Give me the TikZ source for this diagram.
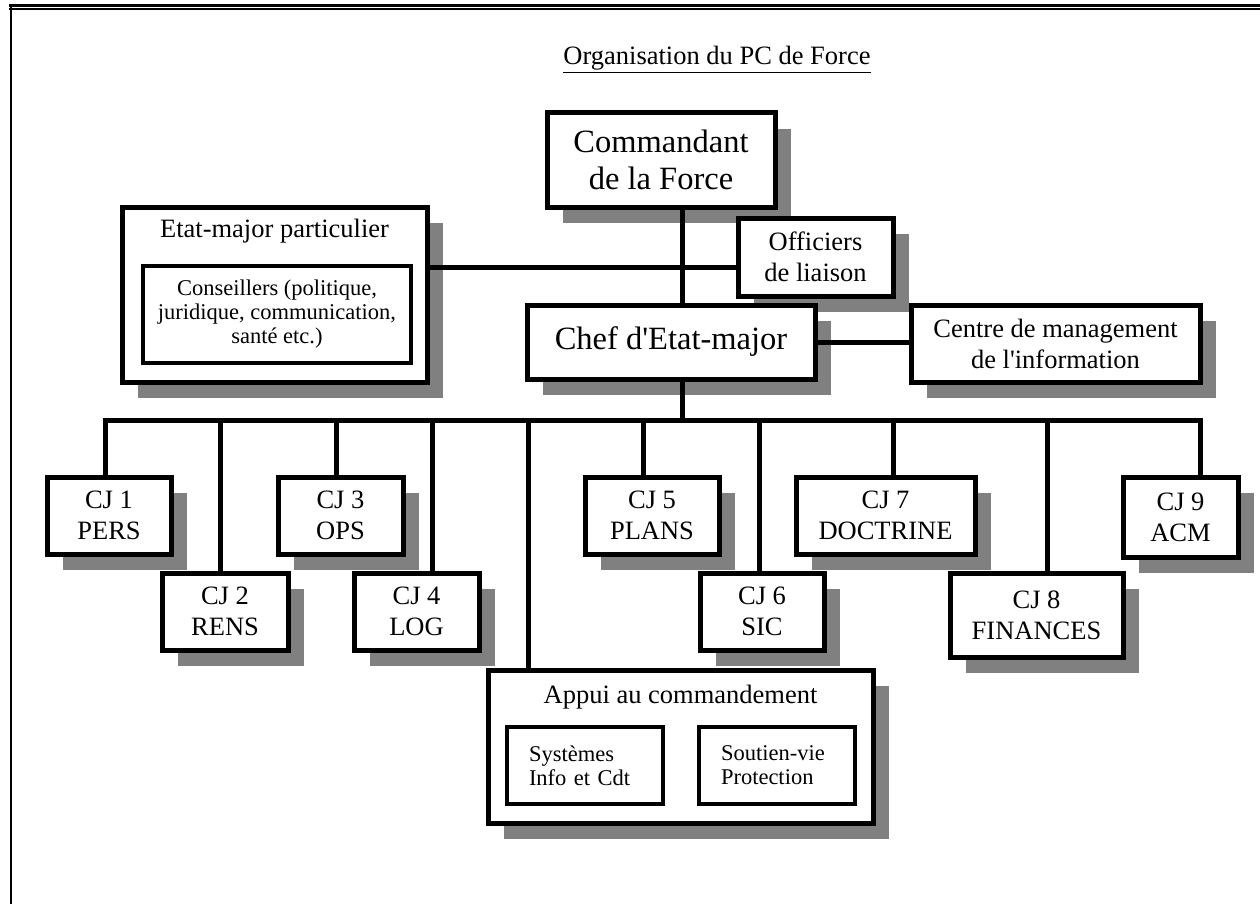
\documentclass[tikz,border=0pt]{standalone}
\usepackage{fontspec}
\setmainfont{Liberation Serif}
\usetikzlibrary{shadows, positioning}
\definecolor{shadowgray}{HTML}{808080}

\begin{document}
\begin{tikzpicture}[x=1pt, y=-1pt,
    box/.style={rectangle, draw, line width=5pt, fill=white, inner sep=0pt, align=center,
        drop shadow={shadow xshift=16pt, shadow yshift=-16pt, fill=shadowgray, opacity=1}},
    innerbox/.style={rectangle, draw, line width=4.5pt, fill=white, inner sep=0pt},
    cj/.style={box, mid, minimum height=77pt},
    link/.style={line width=5pt},
    big/.style={font=\fontsize{32.5}{37}\selectfont},
    mid/.style={font=\fontsize{26.5}{31}\selectfont},
    small/.style={font=\fontsize{22.5}{24}\selectfont}
]
\useasboundingbox (0,0) rectangle (1260,904);

% page frame
\draw[line width=2.4pt] (9,5.5) -- (1260,5.5);
\draw[line width=2pt] (9,9.3) -- (1260,9.3);
\draw[line width=2.5pt] (11.2,4.3) -- (11.2,904);

\node[mid, anchor=base] (title) at (717,65) {\underline{Organisation du PC de Force}};

% top of the tree
\node[box, big, minimum width=228pt, minimum height=94pt] (cmd) at (661,160) {Commandant\\de la Force};
\node[box, minimum width=305pt, minimum height=175pt] (emp) at (274.5,294.5) {};
\node[mid] (emptitle) at (274.5,231) {Etat-major particulier};
\node[innerbox, small, align=center, minimum width=268pt, minimum height=97pt] (cons) at (277,314.5) {Conseillers (politique,\\juridique, communication,\\santé etc.)};
\node[box, mid, minimum width=155pt, minimum height=78pt] (off) at (815.5,257) {Officiers\\de liaison};
\node[box, big, minimum width=288pt, minimum height=74pt] (chef) at (671,342) {Chef d\textquotesingle Etat-major};
\node[box, mid, minimum width=289pt, minimum height=77pt] (centre) at (1055.5,343.5) {Centre de management\\de l\textquotesingle information};

% cellules
\node[cj, minimum width=124pt] (cj1) at (109,515.5) {CJ 1\\PERS};
\node[cj, minimum width=126pt] (cj2) at (225,611.5) {CJ 2\\RENS};
\node[cj, minimum width=125pt] (cj3) at (340.5,515.5) {CJ 3\\OPS};
\node[cj, minimum width=125pt] (cj4) at (416.5,611.5) {CJ 4\\LOG};
\node[cj, minimum width=134pt] (cj5) at (652,515.5) {CJ 5\\PLANS};
\node[cj, minimum width=124pt] (cj6) at (762,611.5) {CJ 6\\SIC};
\node[cj, minimum width=179pt] (cj7) at (885.5,515.5) {CJ 7\\DOCTRINE};
\node[cj, minimum width=173pt, minimum height=84pt] (cj8) at (1036.5,615) {CJ 8\\FINANCES};
\node[cj, minimum width=115pt, minimum height=80pt] (cj9) at (1180.5,517) {CJ 9\\ACM};

% appui au commandement
\node[box, minimum width=385pt, minimum height=153pt] (appui) at (680.5,746.5) {};
\node[mid] (appuititle) at (680.5,697) {Appui au commandement};
\node[innerbox, small, align=left, text width=112pt, minimum width=156pt, minimum height=77pt] (sys) at (585,765.5) {Systèmes\\Info et Cdt};
\node[innerbox, small, align=left, text width=112pt, minimum width=156pt, minimum height=77pt] (sout) at (777,765.5) {Soutien-vie\\Protection};

% liaisons
\coordinate (spine) at (682,420);
\draw[link] (spine |- cmd.south) -- (spine |- chef.north);
\draw[link] (spine |- chef.south) -- (spine);
\draw[link] ([yshift=27.5pt]emp.east) coordinate (ec) -- (ec -| off.west);
\draw[link] (chef.east) -- (chef.east -| centre.west);

\coordinate (buscj1) at (105,420);
\coordinate (buscj9) at (1200,420);
\draw[link] (buscj1 |- cj1.north) -- (buscj1) -- (buscj9) -- (buscj9 |- cj9.north);
\foreach \x/\n in {220/cj2, 336/cj3, 432/cj4, 528/appui, 643/cj5, 759/cj6, 893/cj7, 1047/cj8}{
    \coordinate (bus\n) at (\x,420);
    \draw[link] (bus\n) -- (bus\n |- \n.north);
}
\end{tikzpicture}
\end{document}
